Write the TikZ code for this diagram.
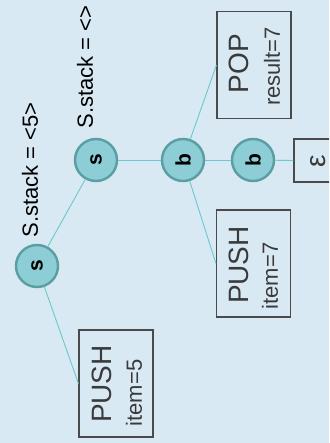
\documentclass[tikz,border=0pt]{standalone}
\usepackage{fontspec}
\setmainfont{Liberation Sans}
\definecolor{bgc}{HTML}{D8E9F3}
\definecolor{circfill}{HTML}{8DCED6}
\definecolor{circline}{HTML}{5B9EA2}
\definecolor{edgec}{HTML}{6CC8CF}
\definecolor{boxline}{HTML}{4A4A4A}
\definecolor{txt}{HTML}{3A3A3A}
\begin{document}
\begin{tikzpicture}[x=1pt,y=-1pt,
  state/.style={circle,draw=circline,fill=circfill,line width=2.4pt,minimum size=42pt,inner sep=0pt,font=\fontsize{21}{21}\selectfont\bfseries,rotate=90},
  opbox/.style={rectangle,draw=boxline,line width=1.1pt,minimum width=107pt,minimum height=74pt,inner sep=0pt,rotate=90},
  bigtxt/.style={inner sep=0pt,rotate=90,text=txt,font=\fontsize{28}{28}\selectfont},
  smalltxt/.style={inner sep=0pt,rotate=90,text=txt,font=\fontsize{22}{22}\selectfont},
  lbl/.style={inner sep=0pt,rotate=90,font=\fontsize{22}{22}\selectfont},
  conn/.style={draw=edgec,line width=0.9pt}]
\useasboundingbox (0,0) rectangle (329,443);
\fill[bgc] (0,0) rectangle (329,443);
\clip (0,0) rectangle (329,443);
% states
\node[state] (s1) at (37,266) {s};
\node[state] (s2) at (96,160) {s};
\node[state] (b1) at (183,160) {b};
\node[state] (b2) at (253,160) {b};
% boxes
\node[opbox] (push5) at (116,383.5) {};
\node[bigtxt] (push5a) at (102,384) {PUSH};
\node[smalltxt] (push5b) at (134,393) {item=5};
\node[opbox] (push7) at (253.5,263.5) {};
\node[bigtxt] (push7a) at (239,265) {PUSH};
\node[smalltxt] (push7b) at (270,276) {item=7};
\node[opbox] (pop) at (254,65) {};
\node[bigtxt] (popa) at (239,63.5) {POP};
\node[smalltxt] (popb) at (272,66.5) {result=7};
\node[opbox,minimum width=43pt] (eps) at (331,160.5) {};
\node[bigtxt] (epsa) at (318.5,161) {ε};
% labels
\node[lbl] (l1) at (30,170) {S.stack = <5>};
\node[lbl] (l2) at (85,67) {S.stack = <>};
% connectors
\draw[conn] (s1) -- (s2);
\draw[conn] (s1) -- (push5.north);
\draw[conn] (s2) -- (b1);
\draw[conn] (b1) -- (pop.north);
\draw[conn] (b1) -- (push7.north);
\draw[conn] (b1) -- (b2);
\draw[conn] (b2) -- (eps.north);
\end{tikzpicture}
\end{document}
